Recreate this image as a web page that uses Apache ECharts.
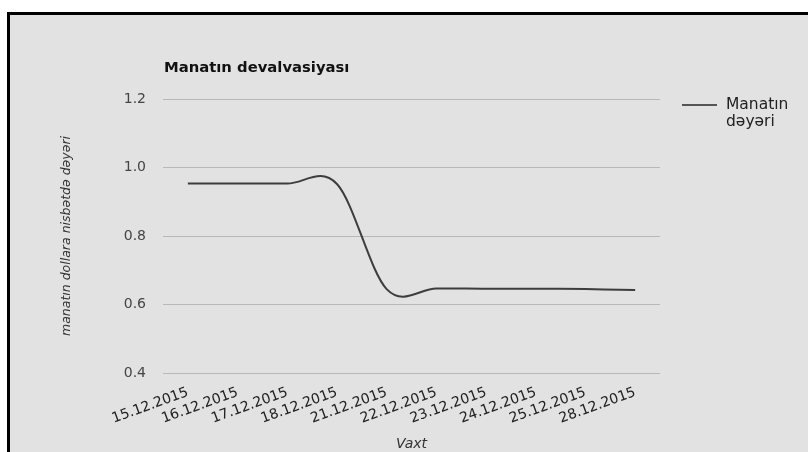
<!DOCTYPE html>
<html>
<head>
<meta charset="utf-8">
<script src="https://cdn.jsdelivr.net/npm/echarts@6/dist/echarts.min.js"></script>
<style>
  html, body { margin: 0; padding: 0; background: #ffffff; width: 808px; height: 452px; overflow: hidden; }
  #frame { position: absolute; left: 7px; top: 12px; width: 801px; height: 440px; border-left: 3px solid #000; border-top: 3px solid #000; background: #e2e2e2; box-sizing: border-box; }
  #chart { position: absolute; left: 0; top: 0; width: 808px; height: 452px; }
</style>
</head>
<body>
<div id="frame"></div>
<div id="chart"></div>
<script>
const titleText = 'Manatın devalvasiyası';
const seriesName = 'Manatın dəyəri';
const legendLabel = 'Manatın\ndəyəri';
const yAxisName = 'manatın dollara nisbətdə dəyəri';
const xAxisName = 'Vaxt';
const categories = ['15.12.2015', '16.12.2015', '17.12.2015', '18.12.2015', '21.12.2015', '22.12.2015', '23.12.2015', '24.12.2015', '25.12.2015', '28.12.2015'];
const values = [0.953, 0.953, 0.953, 0.952, 0.645, 0.647, 0.646, 0.646, 0.645, 0.642];

const chart = echarts.init(document.getElementById('chart'), null, { renderer: 'canvas' });
const font = '"DejaVu Sans", sans-serif';
const n = values.length;
const clampIdx = k => Math.max(0, Math.min(n - 1, k));

// Draw the whole line once (Catmull-Rom spline through the data points, positioned by the axes)
function renderItem(params, api) {
  if (params.dataIndex !== 0) return null;
  const P = k => { const j = clampIdx(k); return api.coord([j, values[j]]); };
  const f = v => v.toFixed(2);
  const start = P(0);
  let d = 'M' + f(start[0]) + ',' + f(start[1]);
  for (let i = 0; i < n - 1; i++) {
    const p0 = P(i - 1), p1 = P(i), p2 = P(i + 1), p3 = P(i + 2);
    const c1x = p1[0] + (p2[0] - p0[0]) / 6, c1y = p1[1] + (p2[1] - p0[1]) / 6;
    const c2x = p2[0] - (p3[0] - p1[0]) / 6, c2y = p2[1] - (p3[1] - p1[1]) / 6;
    d += ' C' + f(c1x) + ',' + f(c1y) + ' ' + f(c2x) + ',' + f(c2y) + ' ' + f(p2[0]) + ',' + f(p2[1]);
  }
  return {
    type: 'path',
    shape: { pathData: d },
    style: { stroke: '#3d3d3d', lineWidth: 2, fill: null, lineJoin: 'round', lineCap: 'butt' }
  };
}

chart.setOption({
  backgroundColor: 'transparent',
  animation: false,
  textStyle: { fontFamily: font },
  title: {
    text: titleText,
    left: 164, top: 61, padding: 0,
    textStyle: { fontFamily: font, fontSize: 14.8, fontWeight: 'bold', color: '#111' }
  },
  legend: {
    left: 682, top: 96, padding: 0,
    itemWidth: 39, itemHeight: 34,
    data: [{
      name: seriesName,
      icon: 'path://M0,0 L0.01,0 L0,0.01 Z M0,8 L35,8 L35,10 L0,10 Z M39,34 L38.99,34 L39,33.99 Z',
      itemStyle: { color: '#555', borderWidth: 0 }
    }],
    formatter: () => legendLabel,
    textStyle: { fontFamily: font, fontSize: 15.5, color: '#222', lineHeight: 17 }
  },
  grid: { left: 163, right: 148, top: 99, bottom: 79, containLabel: false, outerBoundsMode: 'none' },
  xAxis: {
    type: 'category',
    data: categories,
    boundaryGap: true,
    name: xAxisName,
    nameLocation: 'middle',
    nameGap: 64,
    nameTextStyle: { fontFamily: font, fontSize: 14, fontStyle: 'italic', color: '#333' },
    axisLine: { show: false },
    axisTick: { show: false },
    axisLabel: { rotate: 20, margin: 19, fontFamily: font, fontSize: 14, color: '#222', interval: 0 }
  },
  yAxis: {
    type: 'value',
    min: 0.4, max: 1.2, interval: 0.2,
    name: yAxisName,
    nameLocation: 'middle',
    nameGap: 90,
    nameTextStyle: { fontFamily: font, fontSize: 12.5, fontStyle: 'italic', color: '#333' },
    axisLine: { show: false },
    axisTick: { show: false },
    axisLabel: { margin: 17, fontFamily: font, fontSize: 14, color: '#444', formatter: v => v.toFixed(1) },
    splitLine: { show: true, lineStyle: { color: '#b8b8b8', width: 1 } }
  },
  series: [{
    name: seriesName,
    type: 'custom',
    renderItem: renderItem,
    data: values.map((v, i) => [i, v]),
    encode: { x: 0, y: 1 },
    itemStyle: { color: '#555' }
  }]
});
</script>
</body>
</html>
